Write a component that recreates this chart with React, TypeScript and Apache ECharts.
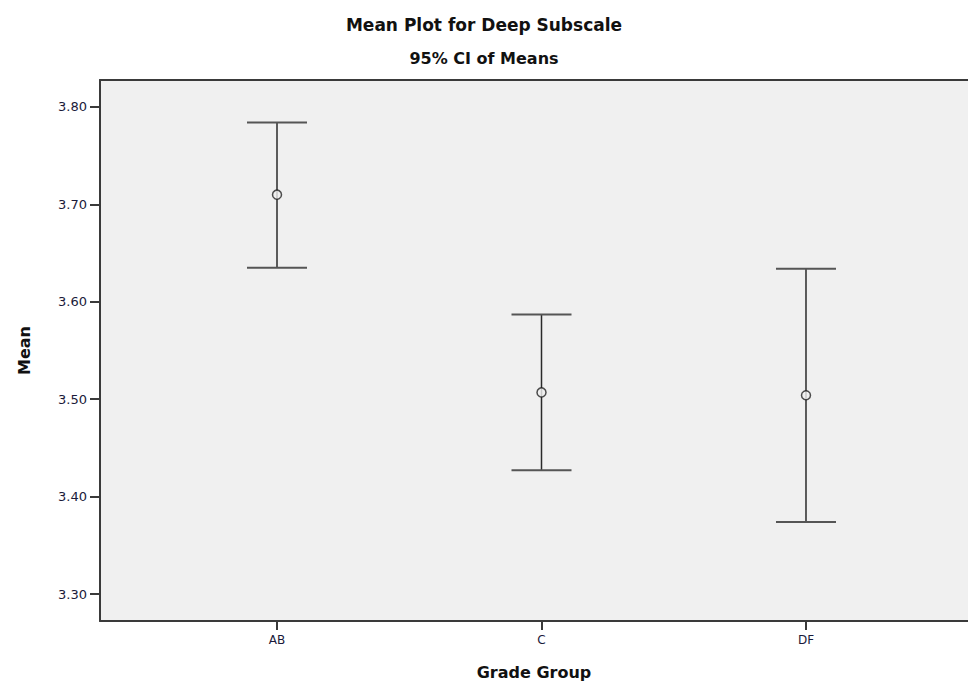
import React, { useEffect, useRef } from "react";
import * as echarts from "echarts";

const categories = ["AB", "C", "DF"];
const means = [3.71, 3.507, 3.504];
const lowerCI = [3.635, 3.427, 3.374];
const upperCI = [3.784, 3.587, 3.634];
const yTicks = [3.3, 3.4, 3.5, 3.6, 3.7, 3.8];
const xPositions = [1, 2, 3];

export default function App() {
  const ref = useRef<HTMLDivElement>(null);
  useEffect(() => {
    if (!ref.current) return;
    const chart = echarts.init(ref.current, undefined, { renderer: "svg" });
    const font = "DejaVu Sans";
    const errData = xPositions.map((x, i) => [x, lowerCI[i], upperCI[i]]);
    const meanData = xPositions.map((x, i) => [x, means[i]]);
    const xMin = 0.3308;
    const xMax = 3.6125;
    const lineStyle = { color: "#3a3a3a", width: 2 };
    chart.setOption({
      animation: false,
      backgroundColor: "#ffffff",
      title: [
        {
          text: "Mean Plot for Deep Subscale",
          left: "center",
          top: 11,
          textStyle: { fontFamily: font, fontWeight: "bold", fontSize: 17, color: "#111" },
        },
        {
          text: "95% CI of Means",
          left: "center",
          top: 45,
          textStyle: { fontFamily: font, fontWeight: "bold", fontSize: 16, color: "#111" },
        },
      ],
      grid: {
        left: 100,
        top: 80,
        bottom: 65,
        right: 0,
        show: true,
        backgroundColor: "#f0f0f0",
        borderWidth: 0,
      },
      xAxis: [
        {
          type: "value",
          min: xMin,
          max: xMax,
          name: "Grade Group",
          nameLocation: "middle",
          nameGap: 43,
          nameTextStyle: { fontFamily: font, fontWeight: "bold", fontSize: 16, color: "#111" },
          splitLine: { show: false },
          axisLine: { show: true, onZero: false, lineStyle },
          axisTick: {
            show: true,
            customValues: xPositions,
            length: 9,
            lineStyle,
          },
          axisLabel: {
            customValues: xPositions,
            formatter: (v: number) => categories[Math.round(v) - 1] ?? "",
            fontFamily: font,
            fontSize: 12,
            color: "#1a1a3a",
            margin: 13,
          },
        },
        {
          type: "value",
          position: "top",
          min: xMin,
          max: xMax,
          splitLine: { show: false },
          axisLine: { show: true, onZero: false, lineStyle },
          axisTick: { show: false },
          axisLabel: { show: false },
        },
      ],
      yAxis: {
        type: "value",
        min: 3.2723,
        max: 3.8277,
        name: "Mean",
        nameLocation: "middle",
        nameGap: 68,
        nameTextStyle: { fontFamily: font, fontWeight: "bold", fontSize: 16, color: "#111" },
        splitLine: { show: false },
        axisLine: { show: true, onZero: false, lineStyle },
        axisTick: {
          show: true,
          customValues: yTicks,
          length: 10,
          lineStyle,
        },
        axisLabel: {
          customValues: yTicks,
          formatter: (v: number) => v.toFixed(2),
          fontFamily: font,
          fontSize: 13,
          color: "#1a1a3a",
          margin: 13,
        },
      },
      series: [
        {
          type: "custom",
          xAxisIndex: 0,
          data: errData,
          renderItem: (params: any, api: any) => {
            const x = api.value(0);
            const lo = api.coord([x, api.value(1)]);
            const hi = api.coord([x, api.value(2)]);
            const hw = 30;
            return {
              type: "group",
              children: [
                {
                  type: "line",
                  shape: { x1: lo[0], y1: lo[1], x2: hi[0], y2: hi[1] },
                  style: { stroke: "#2a2a2a", lineWidth: 1.5 },
                },
                {
                  type: "line",
                  shape: { x1: lo[0] - hw, y1: lo[1], x2: lo[0] + hw, y2: lo[1] },
                  style: { stroke: "#555", lineWidth: 2 },
                },
                {
                  type: "line",
                  shape: { x1: hi[0] - hw, y1: hi[1], x2: hi[0] + hw, y2: hi[1] },
                  style: { stroke: "#555", lineWidth: 2 },
                },
              ],
            };
          },
          z: 2,
        },
        {
          type: "scatter",
          xAxisIndex: 0,
          data: meanData,
          symbol: "circle",
          symbolSize: 9,
          itemStyle: { color: "#f0f0f0", borderColor: "#222", borderWidth: 1.5 },
          z: 3,
        },
      ],
    });
    return () => chart.dispose();
  }, []);
  return (
    <div
      ref={ref}
      style={{ position: "fixed", left: 0, top: 0, width: 968, height: 686 }}
    />
  );
}
